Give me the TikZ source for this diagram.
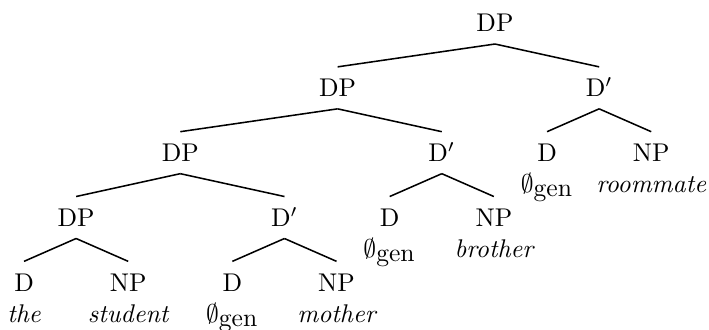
\documentclass[tikz,border=0pt]{standalone}
\usepackage{amsmath}
\usepackage{amssymb}
\usetikzlibrary{positioning}

\begin{document}
\begin{tikzpicture}[
    node distance=0.89cm and 1.43cm,
    on grid,
    cat/.style={inner xsep=0pt, inner ysep=4.5pt, text height=7pt, text depth=0pt},
    word/.style={inner sep=0pt, text height=7pt, text depth=0pt, font=\itshape},
    nullword/.style={word, font=\normalfont},
    branch/.style={semithick}
]
\useasboundingbox (-6.795,0.316) rectangle (2.938,-4.214);

% Raiz
\node (dp_top) [cat] at (0,0) {DP};

% Nivel 1
\node (dp_a) [cat, below left=0.89cm and 2.16cm of dp_top] {DP};
\node (dbar_a) [cat, below right=0.89cm and 1.43cm of dp_top] {D$'$};

% Nivel 2
\node (dp_b) [cat, below left=0.89cm and 2.16cm of dp_a] {DP};
\node (dbar_b) [cat, below right=0.89cm and 1.43cm of dp_a] {D$'$};
\node (d_a) [cat, below left=0.89cm and 0.715cm of dbar_a] {D};
\node (np_a) [cat, below right=0.89cm and 0.715cm of dbar_a] {NP};

% Nivel 3
\node (dp_c) [cat, below left=0.89cm and 1.43cm of dp_b] {DP};
\node (dbar_c) [cat, below right=0.89cm and 1.43cm of dp_b] {D$'$};
\node (d_b) [cat, below left=0.89cm and 0.715cm of dbar_b] {D};
\node (np_b) [cat, below right=0.89cm and 0.715cm of dbar_b] {NP};

% Nivel 4
\node (d_c) [cat, below left=0.89cm and 0.715cm of dp_c] {D};
\node (np_c) [cat, below right=0.89cm and 0.715cm of dp_c] {NP};
\node (d_d) [cat, below left=0.89cm and 0.715cm of dbar_c] {D};
\node (np_d) [cat, below right=0.89cm and 0.715cm of dbar_c] {NP};

% Palabras
\node (w_gen_a) [nullword, below=0.426cm of d_a] {$\emptyset_{\mbox{gen}}$};
\node (w_roommate) [word, below=0.426cm of np_a] {roommate};
\node (w_gen_b) [nullword, below=0.426cm of d_b] {$\emptyset_{\mbox{gen}}$};
\node (w_brother) [word, below=0.426cm of np_b] {brother};
\node (w_the) [word, below=0.426cm of d_c] {the};
\node (w_student) [word, below=0.426cm of np_c] {student};
\node (w_gen_c) [nullword, below=0.426cm of d_d] {$\emptyset_{\mbox{gen}}$};
\node (w_mother) [word, below=0.426cm of np_d] {mother};

% Ramas
\draw [branch] (dp_top.south) -- (dp_a.north);
\draw [branch] (dp_top.south) -- (dbar_a.north);
\draw [branch] (dp_a.south) -- (dp_b.north);
\draw [branch] (dp_a.south) -- (dbar_b.north);
\draw [branch] (dbar_a.south) -- (d_a.north);
\draw [branch] (dbar_a.south) -- (np_a.north);
\draw [branch] (dp_b.south) -- (dp_c.north);
\draw [branch] (dp_b.south) -- (dbar_c.north);
\draw [branch] (dbar_b.south) -- (d_b.north);
\draw [branch] (dbar_b.south) -- (np_b.north);
\draw [branch] (dp_c.south) -- (d_c.north);
\draw [branch] (dp_c.south) -- (np_c.north);
\draw [branch] (dbar_c.south) -- (d_d.north);
\draw [branch] (dbar_c.south) -- (np_d.north);

\end{tikzpicture}
\end{document}
